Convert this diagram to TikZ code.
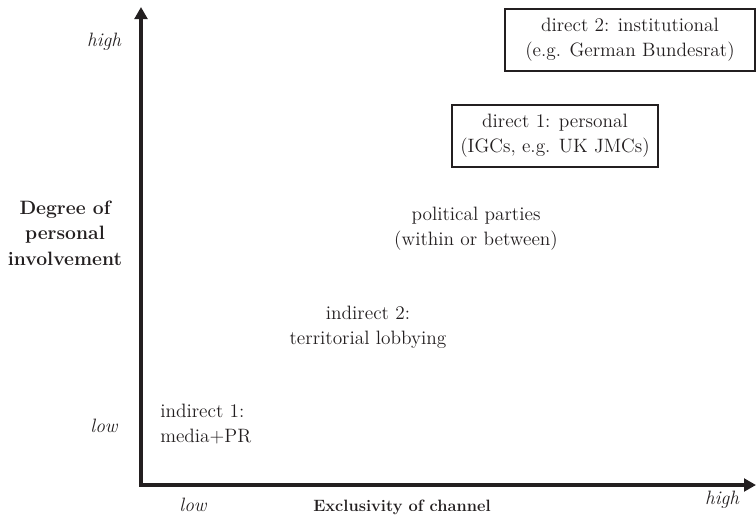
\documentclass[tikz,border=0pt]{standalone}
\usepackage{fontspec}
\usetikzlibrary{arrows.meta}
\definecolor{ink}{HTML}{231F20}
\tikzset{
  axis/.style={line width=2.8pt, draw=ink, -{Triangle[width=9.5pt,length=9pt]}},
  lbl/.style={text=ink, font=\fontsize{14.5}{19}\selectfont, align=center, inner sep=0pt},
  tick/.style={lbl, font=\fontsize{14.5}{19}\selectfont\itshape},
  axtitle/.style={lbl, font=\fontsize{14.5}{19}\selectfont\bfseries},
  framed/.style={lbl, draw=ink, line width=1pt, minimum height=62*0.75pt}
}
\begin{document}
\begin{tikzpicture}[x=0.75pt, y=-0.75pt]
  \useasboundingbox (0,0) rectangle (756,521);
  % axes
  \coordinate (O) at (141,485);
  \coordinate (ytop) at (141,7);
  \coordinate (xend) at (756,485);
  \draw[axis] ([yshift=-1.4pt]O) -- (ytop);
  \draw[axis] ([xshift=-1.4pt]O) -- (xend);
  % axis ticks and titles
  \node[tick] (yhigh) at (104,42) {high};
  \node[tick] (ylow) at (104,426) {low};
  \node[axtitle] (ytitle) at (65,233) {Degree of\\personal\\involvement};
  \node[tick] (xlow) at (193,505) {low};
  \node[axtitle, font=\fontsize{12.3}{19}\selectfont\bfseries] (xtitle) at (402,507) {Exclusivity of channel};
  \node[tick] (xhigh) at (722,500) {high};
  % channels
  \node[framed, minimum width=250*0.75pt] (dir2) at (630,40) {direct 2: institutional\\(e.g. German Bundesrat)};
  \node[framed, minimum width=206*0.75pt] (dir1) at (555,136) {direct 1: personal\\(IGCs, e.g. UK JMCs)};
  \node[lbl] (parties) at (476,229) {political parties\\(within or between)};
  \node[lbl] (ind2) at (368,327) {indirect 2:\\territorial lobbying};
  \node[lbl, align=left, anchor=west] (ind1) at (160,424) {indirect 1:\\media+PR};
\end{tikzpicture}
\end{document}
